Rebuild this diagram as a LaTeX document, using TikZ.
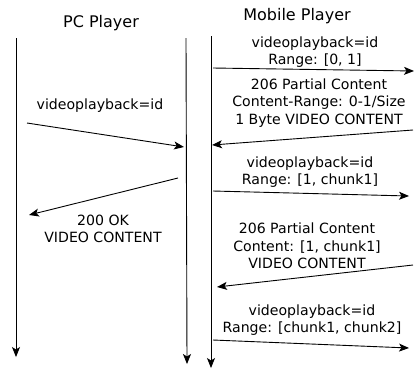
\documentclass[tikz,border=0pt]{standalone}
\usepackage{fontspec}
\setmainfont{DejaVu Sans}
\usetikzlibrary{arrows.meta}
\begin{document}
\begin{tikzpicture}[x=1pt,y=-1pt,
  tip/.style={-{Stealth[length=10pt,width=8pt,inset=2.5pt]}, line width=0.9pt},
  lbl/.style={align=center, inner sep=0pt, font=\fontsize{14.1}{17.5}\selectfont},
  title/.style={inner sep=0pt, font=\fontsize{16}{19}\selectfont}]
\useasboundingbox (0,0) rectangle (414,368);

% titles
\node[title] (pc) at (101,23) {PC Player};
\node[title] (mob) at (297,16) {Mobile Player};

% lifelines
\coordinate (pcT) at (16,38);   \coordinate (pcB) at (16,357);
\coordinate (srvT) at (186,38); \coordinate (srvB) at (187,364);
\coordinate (mbT) at (211,36);  \coordinate (mbB) at (211,368);
\draw[tip] (pcT) -- (pcB);
\draw[tip] (srvT) -- (srvB);
\draw[tip] (mbT) -- (mbB);

% message end points
\coordinate (a1) at (213,68);  \coordinate (b1) at (414,71);
\coordinate (a2) at (413,130); \coordinate (b2) at (212,145);
\coordinate (a3) at (27,123);  \coordinate (b3) at (184,147);
\coordinate (a4) at (178,178); \coordinate (b4) at (29,215);
\coordinate (a5) at (213,191); \coordinate (b5) at (409,196);
\coordinate (a6) at (413,265); \coordinate (b6) at (217,287);
\coordinate (a7) at (213,340); \coordinate (b7) at (409,348);

\draw[tip] (a1) -- (b1);
\draw[tip] (a2) -- (b2);
\draw[tip] (a3) -- (b3);
\draw[tip] (a4) -- (b4);
\draw[tip] (a5) -- (b5);
\draw[tip] (a6) -- (b6);
\draw[tip] (a7) -- (b7);

% labels
\node[lbl] (l1) at (315,52) {videoplayback=id\\Range: [0, 1]};
\node[lbl] (l2) at (319,103) {206 Partial Content\\Content-Range: 0-1/Size\\1 Byte VIDEO CONTENT};
\node[lbl] (l3) at (100,106) {videoplayback=id};
\node[lbl] (l4) at (103,229) {200 OK\\VIDEO CONTENT};
\node[lbl] (l5) at (310,172) {videoplayback=id\\Range: [1, chunk1]};
\node[lbl] (l6) at (307,246) {206 Partial Content\\Content: [1, chunk1]\\VIDEO CONTENT};
\node[lbl] (l7) at (312,320) {videoplayback=id\\Range: [chunk1, chunk2]};
\end{tikzpicture}
\end{document}
